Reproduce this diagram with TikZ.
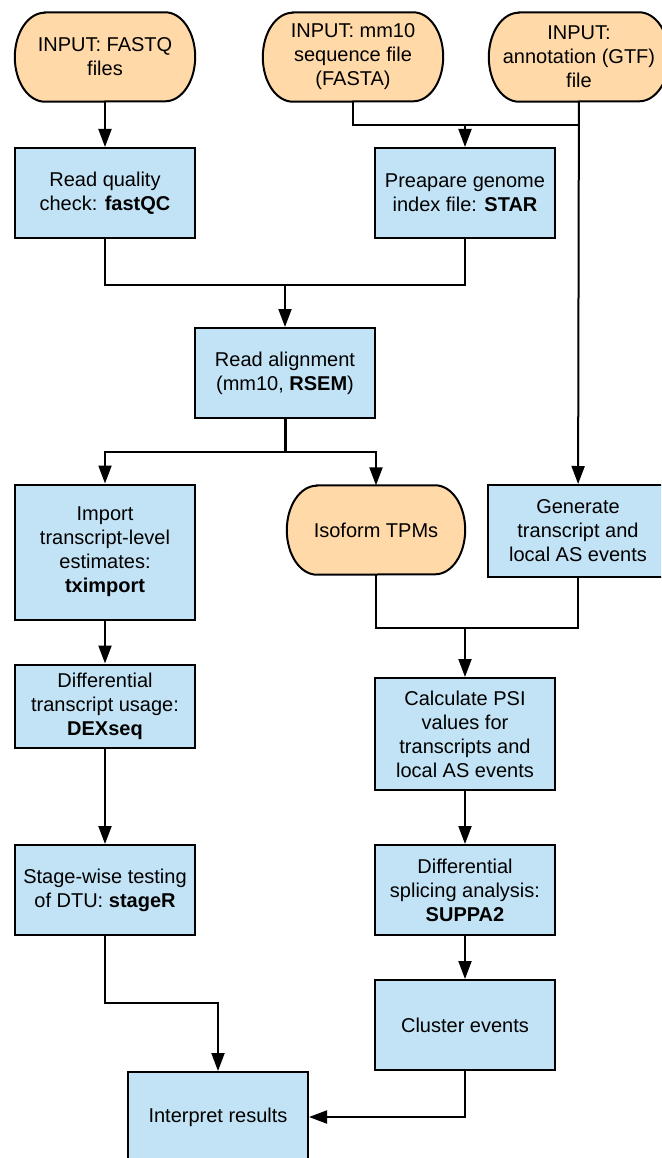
\documentclass[tikz,border=0pt]{standalone}
\usepackage{fontspec}
\setmainfont{Liberation Sans}
\usepackage{tikz}
\usetikzlibrary{positioning,arrows.meta,calc,backgrounds}

\definecolor{inputfill}{HTML}{FFD9A8}
\definecolor{stepfill}{HTML}{C2E3F5}

\tikzset{
    inputbox/.style={minimum width=180pt, minimum height=89pt, align=center, inner sep=0pt},
    stepbox/.style={draw=black, line width=2pt, fill=stepfill,
        minimum width=180pt, minimum height=90pt, align=center, inner sep=0pt},
    stadium/.style={draw=black, line width=2pt, fill=inputfill},
    link/.style={line width=2pt, black},
    arr/.style={link, -{Triangle[length=18pt,width=13pt]}},
}

\begin{document}
\begin{tikzpicture}[x=1pt, y=1pt, font=\fontsize{20}{24}\selectfont]
\useasboundingbox (0,0) rectangle (661,-1158);
\clip (0,0) rectangle (661,-1158);

% Inputs
\node[inputbox] (fastq) at (105,-57) {INPUT: FASTQ\\files};
\node[inputbox] (mmten) at (353,-57) {INPUT: mm10\\sequence file\\(FASTA)};
\node[inputbox] (gtf) at (579,-57) {INPUT:\\annotation (GTF)\\file};

% Preparation
\node[stepbox] (qc) at (105,-193) {Read quality\\check: \textbf{fastQC}};
\node[stepbox] (star) at (465,-193) {Preapare genome\\index file: \textbf{STAR}};
\node[stepbox] (align) at (285,-373) {Read alignment\\(mm10, \textbf{RSEM})};

% Left branch: DTU
\node[stepbox, minimum height=135pt] (txi) at (105,-552) {Import\\transcript-level\\estimates:\\\textbf{tximport}};
\node[stepbox, minimum height=83pt] (dtu) at (105,-706) {Differential\\transcript usage:\\\textbf{DEXseq}};
\node[stepbox] (stage) at (105,-890) {Stage-wise testing\\of DTU: \textbf{stageR}};

% Right branch: AS events
\node[inputbox, minimum width=178pt] (tpm) at (376,-530) {Isoform TPMs};
\node[stepbox, minimum height=92pt] (events) at (578,-531) {Generate\\transcript and\\local AS events};
\node[stepbox, minimum height=112pt] (psi) at (465,-734) {Calculate PSI\\values for\\transcripts and\\local AS events};
\node[stepbox] (suppa) at (465,-890) {Differential\\splicing analysis:\\\textbf{SUPPA2}};
\node[stepbox] (cluster) at (465,-1025) {Cluster events};

% Result
\node[stepbox] (result) at (218,-1117) {Interpret results};

% Stadium outlines behind the input nodes
\begin{scope}[on background layer]
\foreach \n in {fastq,mmten,gtf,tpm} {
    \draw[stadium] ($(\n.north west)+(30,0)$) -- ($(\n.north east)+(-30,0)$)
        arc[x radius=30, y radius=44.5, start angle=90, end angle=-90]
        -- ($(\n.south west)+(30,0)$)
        arc[x radius=30, y radius=44.5, start angle=270, end angle=90] -- cycle;
}
\end{scope}

% Junctions
\coordinate (jgenome) at (465,-125);
\coordinate (jalign) at (285,-285);
\coordinate (jsplit) at (285,-452);
\coordinate (jpsi) at (465,-628);
\coordinate (jresult) at (218,-1003);

% Connectors
\draw[arr] (fastq) -- (qc);
\draw[link] (mmten.south) |- (gtf.south |- jgenome);
\draw[arr] (jgenome) -- (star);
\draw[arr] (gtf) -- (events);
\draw[link] (qc.south) |- (jalign) -| (star.south);
\draw[arr] (jalign) -- (align);
\draw[link, line width=3pt] (align.south) -- (jsplit);
\draw[arr] (jsplit) -| (txi.north);
\draw[arr] (jsplit) -| (tpm.north);
\draw[link] (tpm.south) |- (jpsi) -| (events.south);
\draw[arr] (jpsi) -- (psi);
\draw[arr] (txi) -- (dtu);
\draw[arr] (dtu) -- (stage);
\draw[arr] (psi) -- (suppa);
\draw[arr] (suppa) -- (cluster);
\draw[arr] (stage.south) |- (jresult) -- (result.north);
\draw[arr] (cluster.south) |- (result.east);

\end{tikzpicture}
\end{document}
